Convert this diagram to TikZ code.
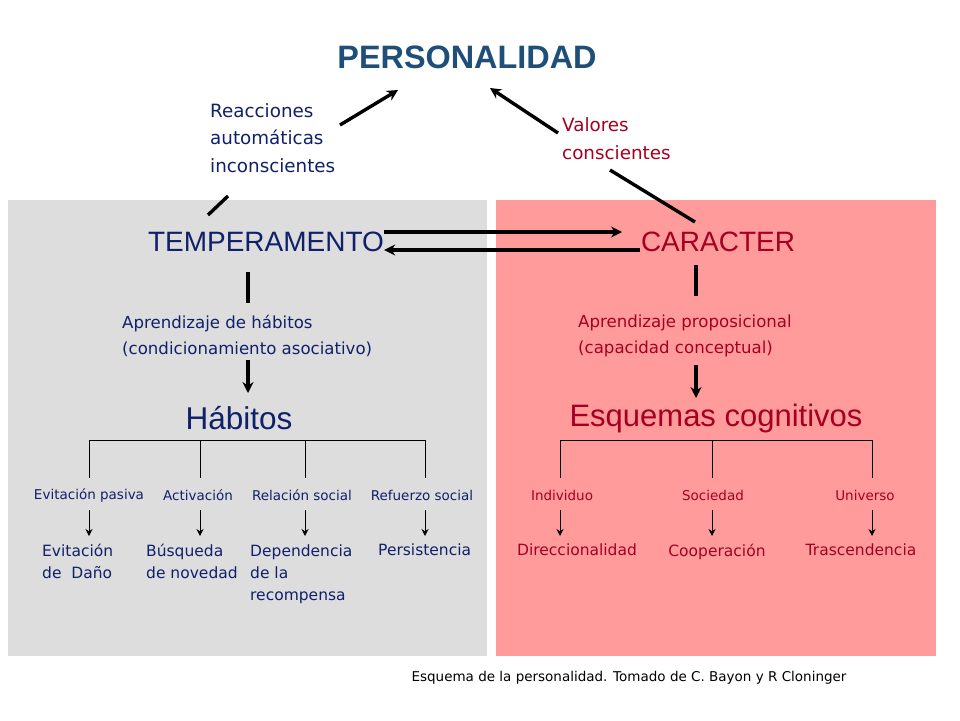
\documentclass[tikz,border=0pt]{standalone}
\usepackage{fontspec}
\setmainfont{Liberation Sans}
\newfontfamily\vfont{DejaVu Sans}
\usetikzlibrary{arrows.meta}
\definecolor{navy}{HTML}{10206A}
\definecolor{ptitle}{HTML}{1F4E79}
\definecolor{crim}{HTML}{A50021}
\definecolor{grayb}{HTML}{DDDDDD}
\definecolor{pinkb}{HTML}{FF9B9B}
\begin{document}
\begin{tikzpicture}[x=1pt,y=-1pt,
  thick line/.style={line width=3.4pt},
  tharrow/.style={line width=3.4pt,-{Stealth[length=11pt,width=11pt]}},
  thin/.style={line width=1pt},
  tnarrow/.style={line width=1pt,-{Stealth[length=7pt,width=7pt]}},
  big/.style={font=\fontsize{28}{30}\selectfont,inner sep=0},
  mid/.style={font=\vfont\fontsize{16.6}{26}\selectfont,align=left,anchor=west,inner sep=0},
  sm/.style={font=\vfont\fontsize{13.5}{15}\selectfont,inner sep=0},
  lf/.style={font=\vfont\fontsize{15.5}{22}\selectfont,align=left,anchor=north west,inner sep=0}]
\useasboundingbox (0,0) rectangle (960,720);
\fill[white] (0,0) rectangle (960,720);
\fill[grayb] (8,200) rectangle (487,656);
\fill[pinkb] (496,200) rectangle (936,656);
\node[font=\bfseries\fontsize{32.4}{34}\selectfont,text=ptitle] (pers) at (467,57) {PERSONALIDAD};
\coordinate (pl) at (398,90); \coordinate (pr) at (490,88);
\node[mid,text=navy,font=\vfont\fontsize{18.3}{27.5}\selectfont] (reac) at (210,138) {Reacciones\\automáticas\\inconscientes};
\node[mid,text=crim,font=\vfont\fontsize{18.3}{28}\selectfont] (val) at (562,139) {Valores\\conscientes};
\node[big,text=navy] (temp) at (266,242) {TEMPERAMENTO};
\node[big,text=crim] (car) at (718,242) {CARACTER};
\draw[thick line] (208,215) -- (228,196);
\draw[tharrow] (340,125) -- (pl);
\draw[thick line] (695,222) -- (610,170);
\draw[tharrow] (558,133) -- (pr);
\draw[tharrow] (temp.east |- 0,232) -- (622,232);
\draw[tharrow] (640,250) -- (temp.east |- 0,250);
% left chain
\draw[thick line] (248,272) -- (248,303);
\node[mid,text=navy] (apl) at (122,336) {Aprendizaje de hábitos\\(condicionamiento asociativo)};
\node[big,text=navy,font=\fontsize{31.5}{33}\selectfont] (hab) at (239,418) {Hábitos};
\draw[tharrow] (248,360) -- (248,393);
\draw[thick line] (696,265) -- (696,296);
\node[mid,text=crim] (apr) at (578,336) {Aprendizaje proposicional\\(capacidad conceptual)};
\node[big,text=crim,font=\fontsize{31}{33}\selectfont] (esq) at (716,418) {Esquemas cognitivos};
\draw[tharrow] (696,365) -- (696,398);
% left tree
\draw[thin] (89,478) -- (89,440) -- (425,440) -- (425,478);
\draw[thin] (200,440) -- (200,478); \draw[thin] (305,440) -- (305,478);
\node[sm,text=navy] (l1) at (89,495) {Evitación pasiva};
\node[sm,text=navy] (l2) at (198,495) {Activación};
\node[sm,text=navy] (l3) at (302,495) {Relación social};
\node[sm,text=navy] (l4) at (422,495) {Refuerzo social};
\foreach \x in {89,200,305,425} \draw[tnarrow] (\x,510) -- (\x,536);
\node[lf,text=navy] (b1) at (42,544) {Evitación\\de~~Daño};
\node[lf,text=navy] (b2) at (146,544) {Búsqueda\\de novedad};
\node[lf,text=navy] (b3) at (250,545) {Dependencia\\de la\\recompensa};
\node[lf,text=navy] (b4) at (378,544) {Persistencia};
% right tree
\draw[thin] (560,478) -- (560,440) -- (872,440) -- (872,478);
\draw[thin] (712,440) -- (712,478);
\node[sm,text=crim] (r1) at (562,495) {Individuo};
\node[sm,text=crim] (r2) at (713,495) {Sociedad};
\node[sm,text=crim] (r3) at (865,495) {Universo};
\foreach \x in {560,712,872} \draw[tnarrow] (\x,510) -- (\x,536);
\node[lf,text=crim,anchor=north] (c1) at (577,544) {Direccionalidad};
\node[lf,text=crim,anchor=north] (c2) at (717,544) {Cooperación};
\node[lf,text=crim,anchor=north] (c3) at (861,544) {Trascendencia};
\node[sm] (cap) at (629,678) {Esquema de la personalidad. Tomado de C. Bayon y R Cloninger};
\end{tikzpicture}
\end{document}
